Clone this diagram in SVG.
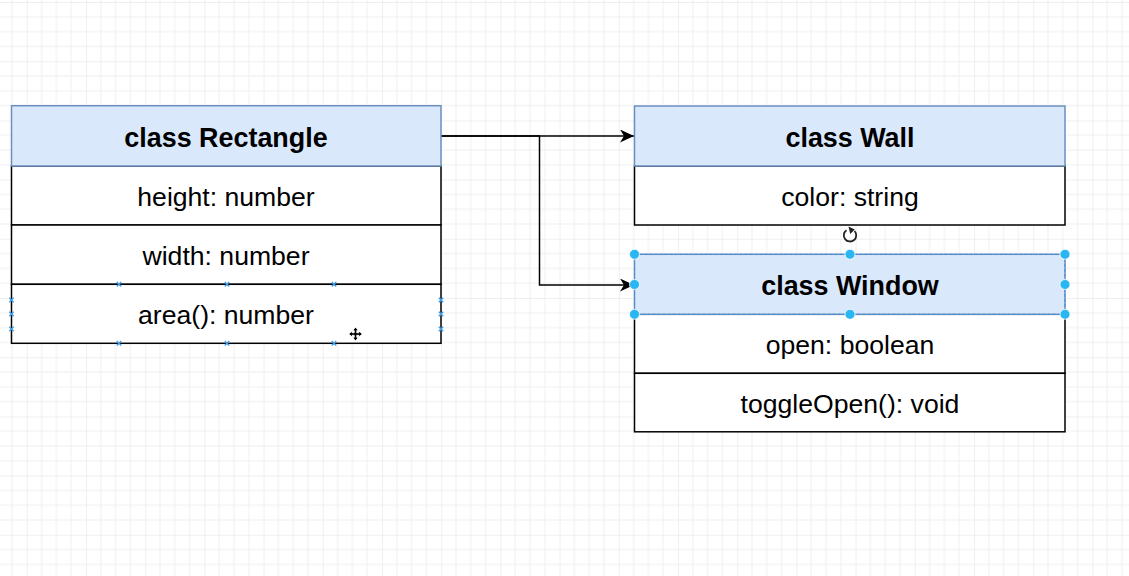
<svg xmlns="http://www.w3.org/2000/svg" width="1129" height="576" viewBox="0 0 1129 576">
<style>
.hdr{fill:#dae8fc;stroke:#6c8ebf;stroke-width:1.5}
.row{fill:#ffffff;stroke:#000000;stroke-width:1.5}
.t{font-family:"Liberation Sans",Arial,Helvetica,sans-serif;font-size:26.6px;fill:#000;text-anchor:middle}
.b{font-weight:bold;font-size:26.9px}
.edge{fill:none;stroke:#000;stroke-width:1.5}
.h{fill:#29b6f2;stroke:#ffffff;stroke-width:0.8}
.cp{stroke:#3f9ee8;stroke-width:1.4;fill:none}
</style>
<defs>
<pattern id="grid" patternUnits="userSpaceOnUse" x="26.8" y="2" width="59.2" height="59.2">
<path d="M14.8 0V59.2M29.6 0V59.2M44.4 0V59.2M0 14.8H59.2M0 29.6H59.2M0 44.4H59.2" stroke="#efefef" stroke-width="1" fill="none"/>
<path d="M0 0V59.2M0 0H59.2" stroke="#e2e2e2" stroke-width="1" fill="none"/>
</pattern>
<marker id="arr" markerUnits="userSpaceOnUse" markerWidth="16" markerHeight="14" refX="14" refY="6.5" orient="auto">
<path d="M0,0 L14,6.5 L0,13 L4,6.5 Z" fill="#000"/>
</marker>
<g id="xm"><path d="M-2.2,-2.2 L2.2,2.2 M-2.2,2.2 L2.2,-2.2" class="cp"/></g>
</defs>
<rect width="1129" height="576" fill="#ffffff"/>
<rect width="1129" height="576" fill="url(#grid)"/>

<g id="connectors">
<path class="edge" d="M441,136 H634" marker-end="url(#arr)"/>
<path class="edge" d="M441,136 H539.5 V285 H634" marker-end="url(#arr)"/>
</g>

<g id="node-rectangle">
<rect class="row" x="11.5" y="166" width="429.5" height="59"/>
<rect class="row" x="11.5" y="225" width="429.5" height="59.3"/>
<rect class="row" x="11.5" y="284.3" width="429.5" height="59"/>
<rect class="hdr" x="11.5" y="105.7" width="429.5" height="60.3"/>
<text class="t b" x="226" y="146.5">class Rectangle</text>
<text class="t" x="226" y="205.5">height: number</text>
<text class="t" x="226" y="264.8">width: number</text>
<text class="t" x="226" y="324">area(): number</text>
</g>

<g id="node-wall">
<rect class="row" x="634.5" y="166" width="430.5" height="59"/>
<rect class="hdr" x="634.5" y="106" width="430.5" height="60"/>
<text class="t b" x="850" y="146.5">class Wall</text>
<text class="t" x="850" y="205.5">color: string</text>
</g>

<g id="node-window">
<rect class="row" x="634.5" y="314.3" width="430.5" height="59"/>
<rect class="row" x="634.5" y="373.3" width="430.5" height="58.5"/>
<rect class="hdr" x="634.5" y="254.3" width="430.5" height="60"/>
<text class="t b" x="850" y="295">class Window</text>
<text class="t" x="850" y="354">open: boolean</text>
<text class="t" x="850" y="413">toggleOpen(): void</text>
</g>

<g id="selection">
<rect x="634.5" y="254.3" width="430.5" height="60" fill="none" stroke="#3d8fd6" stroke-width="1" stroke-dasharray="3,2"/>
<circle class="h" cx="634.5" cy="254.3" r="5"/>
<circle class="h" cx="850" cy="254.3" r="5"/>
<circle class="h" cx="1065" cy="254.3" r="5"/>
<circle class="h" cx="634.5" cy="284.5" r="5"/>
<circle class="h" cx="1065" cy="284.5" r="5"/>
<circle class="h" cx="634.5" cy="314.3" r="5"/>
<circle class="h" cx="850" cy="314.3" r="5"/>
<circle class="h" cx="1065" cy="314.3" r="5"/>
<path d="M854.5,231 A6.2,6.2 0 1 1 846.5,230.2" fill="none" stroke="#222" stroke-width="1.8"/>
<path d="M848.5,226.5 L854.8,229.5 L850.2,234 Z" fill="#222"/>
</g>

<g id="connection-points">
<use href="#xm" x="119" y="284.3"/>
<use href="#xm" x="227" y="284.3"/>
<use href="#xm" x="334" y="284.3"/>
<use href="#xm" x="119" y="343.3"/>
<use href="#xm" x="227" y="343.3"/>
<use href="#xm" x="334" y="343.3"/>
<use href="#xm" x="11.5" y="300"/>
<use href="#xm" x="11.5" y="314"/>
<use href="#xm" x="11.5" y="329"/>
<use href="#xm" x="441" y="300"/>
<use href="#xm" x="441" y="314"/>
<use href="#xm" x="441" y="329"/>
</g>

<g id="cursor">
<path d="M355.5,326 L359,330 H357 V332.5 H359.5 V330.5 L363.5,334 L359.5,337.5 V335.5 H357 V338 H359 L355.5,342 L352,338 H354 V335.5 H351.5 V337.5 L347.5,334 L351.5,330.5 V332.5 H354 V330 H352 Z" fill="#000" stroke="#fff" stroke-width="1" transform="translate(355.5 334) scale(0.85) translate(-355.5 -334)"/>
</g>
</svg>
